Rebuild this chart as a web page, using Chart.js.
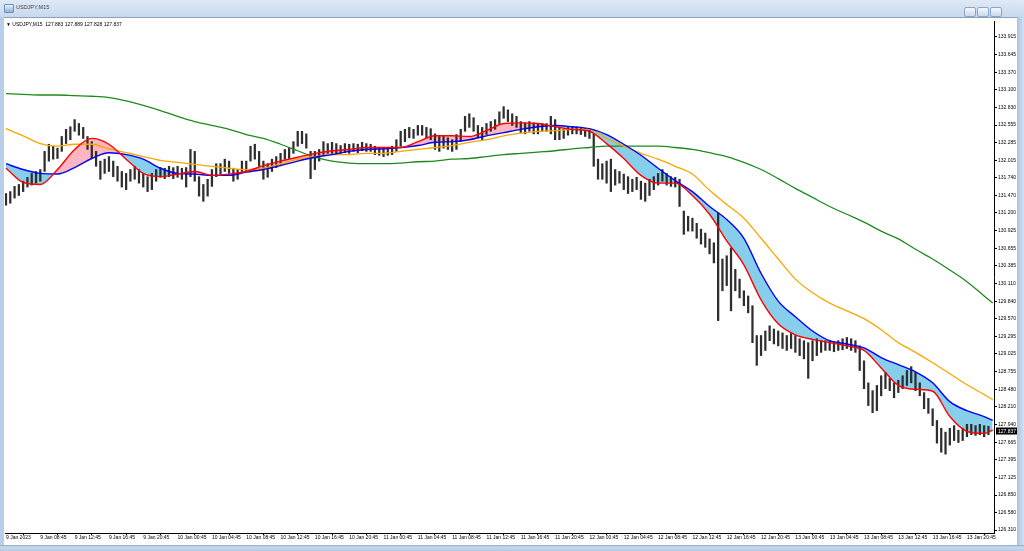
<!DOCTYPE html>
<html>
<head>
<meta charset="utf-8">
<script src="https://cdn.jsdelivr.net/npm/chart.js@4.4.1/dist/chart.umd.min.js"></script>
<style>
  html, body { margin: 0; padding: 0; width: 1024px; height: 551px; overflow: hidden; background: #b9cfe8; font-family: 'Liberation Sans', Arial, sans-serif; }
  #title { position: absolute; left: 0; top: 0; width: 1024px; height: 17px; background: linear-gradient(#dfe9f6, #c7d8ee); }
  #title .icon { position: absolute; left: 4px; top: 4px; width: 8px; height: 7px; background: linear-gradient(#e9f1fb, #8fb0d8); border: 1px solid #6d8fbd; border-radius: 1px; }
  #title .txt { position: absolute; left: 16px; top: 4px; font-size: 5.5px; color: #33475e; }
  #title .btns { position: absolute; right: 22px; top: 3px; height: 9px; }
  #title .btns span { display: inline-block; width: 10px; height: 8px; margin-left: 1px; border: 1px solid #8da5c4; border-radius: 2px; background: linear-gradient(#f4f8fd, #cad9ec); }
  #client { position: absolute; left: 4px; top: 17px; width: 1013px; height: 528px; background: #fff; border-top: 1px solid #8ba3c2; box-sizing: border-box; }
  #chart { position: absolute; left: 0; top: -1px; }
  #info { position: absolute; left: 2px; top: 3px; font-size: 5px; color: #000; white-space: pre; }
  #bottom { position: absolute; left: 0; top: 545px; width: 1024px; height: 6px; background: linear-gradient(#8fa6c2, #c9daee 2px, #b4cbe5); }
  #rightEdge { position: absolute; left: 1017px; top: 17px; width: 7px; height: 528px; background: linear-gradient(90deg, #a9c2df, #d3e2f3); }
</style>
</head>
<body>
<div id="title"><span class="icon"></span><span class="txt">USDJPY,M15</span><div class="btns"><span></span><span></span><span></span></div></div>
<div id="client">
  <canvas id="chart" width="1013" height="528" style="width:1013px;height:528px"></canvas>
  <div id="info">▼ USDJPY,M15  127.883 127.889 127.828 127.837</div>
</div>
<div id="rightEdge"></div>
<div id="bottom"></div>
<script>
// 30-minute bars, 9 Jan 04:45 .. 13 Jan 23:45
const highs = [
  131.50, 131.53, 131.61, 131.64, 131.69, 131.75, 131.81, 131.84, 131.87, 132.15,
  132.26, 132.23, 132.20, 132.38, 132.49, 132.53, 132.64, 132.58, 132.52, 132.38,
  132.30, 132.15, 132.00, 132.03, 132.07, 132.00, 131.92, 131.84, 131.81, 131.87,
  131.92, 131.87, 131.81, 131.76, 131.81, 131.87, 131.90, 131.89, 131.92, 131.90,
  131.92, 131.89, 131.90, 132.18, 132.15, 131.76, 131.64, 131.72, 131.87, 131.96,
  131.96, 132.03, 132.00, 131.89, 131.87, 132.00, 132.00, 132.23, 132.26, 132.15,
  132.00, 131.96, 132.03, 132.07, 132.12, 132.18, 132.20, 132.30, 132.46, 132.46,
  132.42, 132.15, 132.15, 132.18, 132.30, 132.27, 132.29, 132.27, 132.24, 132.27,
  132.26, 132.27, 132.26, 132.29, 132.27, 132.26, 132.23, 132.21, 132.20, 132.21,
  132.23, 132.33, 132.46, 132.49, 132.52, 132.49, 132.55, 132.55, 132.52, 132.50,
  132.42, 132.38, 132.38, 132.36, 132.33, 132.41, 132.49, 132.69, 132.73, 132.67,
  132.55, 132.52, 132.58, 132.61, 132.64, 132.76, 132.84, 132.79, 132.73, 132.69,
  132.61, 132.59, 132.61, 132.59, 132.58, 132.58, 132.58, 132.69, 132.64, 132.52,
  132.50, 132.52, 132.53, 132.53, 132.52, 132.50, 132.49, 132.42, 132.03, 131.96,
  132.00, 132.03, 131.87, 131.84, 131.80, 131.76, 131.72, 131.75, 131.69, 131.66,
  131.72, 131.76, 131.81, 131.87, 131.81, 131.76, 131.75, 131.72, 131.23, 131.15,
  131.12, 131.04, 130.95, 130.89, 130.80, 130.74, 131.20, 130.49, 130.54, 130.66,
  130.33, 130.18, 130.00, 129.92, 129.77, 129.31, 129.31, 129.38, 129.46, 129.41,
  129.38, 129.35, 129.31, 129.34, 129.31, 129.26, 129.23, 129.20, 129.23, 129.26,
  129.23, 129.23, 129.23, 129.21, 129.23, 129.26, 129.28, 129.26, 129.23, 129.15,
  128.92, 128.58, 128.46, 128.54, 128.69, 128.74, 128.65, 128.58, 128.62, 128.69,
  128.77, 128.83, 128.74, 128.58, 128.43, 128.34, 128.18, 128.00, 127.88, 127.82,
  127.88, 127.92, 127.85, 127.88, 127.94, 127.94, 127.92, 127.94, 127.92, 127.91
];
const lows = [
  131.32, 131.35, 131.43, 131.47, 131.53, 131.60, 131.63, 131.66, 131.69, 131.84,
  132.00, 132.03, 132.04, 132.15, 132.27, 132.33, 132.46, 132.40, 132.35, 132.18,
  132.04, 131.92, 131.72, 131.81, 131.84, 131.76, 131.69, 131.60, 131.56, 131.69,
  131.72, 131.66, 131.60, 131.53, 131.56, 131.69, 131.75, 131.73, 131.76, 131.73,
  131.75, 131.72, 131.60, 131.76, 131.69, 131.46, 131.38, 131.46, 131.61, 131.76,
  131.80, 131.84, 131.81, 131.69, 131.72, 131.84, 131.84, 132.00, 132.03, 131.92,
  131.72, 131.75, 131.84, 131.90, 131.95, 132.03, 132.04, 132.12, 132.23, 132.27,
  132.20, 131.73, 131.87, 132.00, 132.10, 132.12, 132.12, 132.10, 132.12, 132.13,
  132.12, 132.15, 132.13, 132.16, 132.15, 132.15, 132.10, 132.09, 132.07, 132.09,
  132.10, 132.15, 132.23, 132.30, 132.36, 132.35, 132.40, 132.40, 132.36, 132.33,
  132.18, 132.15, 132.20, 132.18, 132.15, 132.18, 132.30, 132.46, 132.52, 132.46,
  132.36, 132.33, 132.41, 132.46, 132.49, 132.58, 132.66, 132.61, 132.55, 132.52,
  132.44, 132.42, 132.46, 132.42, 132.42, 132.46, 132.46, 132.42, 132.33, 132.33,
  132.35, 132.40, 132.42, 132.42, 132.41, 132.38, 132.35, 131.92, 131.72, 131.72,
  131.66, 131.53, 131.63, 131.66, 131.56, 131.50, 131.53, 131.56, 131.41, 131.38,
  131.47, 131.56, 131.63, 131.69, 131.63, 131.61, 131.60, 131.30, 130.87, 130.92,
  130.92, 130.81, 130.72, 130.67, 130.57, 130.43, 129.54, 130.00, 130.08, 129.69,
  130.00, 129.89, 129.77, 129.66, 129.20, 128.85, 129.00, 129.08, 129.23, 129.18,
  129.15, 129.11, 129.08, 129.11, 129.05, 129.00, 128.95, 128.65, 128.92, 129.00,
  129.05, 129.08, 129.08, 129.06, 129.08, 129.09, 129.11, 129.08, 129.05, 128.77,
  128.49, 128.23, 128.12, 128.15, 128.38, 128.49, 128.46, 128.35, 128.43, 128.49,
  128.54, 128.58, 128.46, 128.38, 128.18, 128.11, 127.92, 127.65, 127.51, 127.48,
  127.62, 127.69, 127.66, 127.69, 127.75, 127.78, 127.77, 127.78, 127.75, 127.78
];

// moving averages, read every 4 bars (last point at the right edge)
const maFast = [
  131.89, 131.67, 131.64, 131.87, 132.18, 132.35, 132.26, 132.03, 131.81, 131.76,
  131.80, 131.84, 131.78, 131.80, 131.84, 131.93, 132.00, 132.06, 132.12, 132.16,
  132.18, 132.21, 132.21, 132.21, 132.30, 132.39, 132.39, 132.38, 132.47, 132.58,
  132.59, 132.58, 132.53, 132.49, 132.46, 132.27, 132.04, 131.78, 131.66, 131.66,
  131.47, 131.18, 130.77, 130.40, 129.86, 129.49, 129.32, 129.25, 129.20, 129.15,
  129.08, 128.81, 128.54, 128.48, 128.45, 128.06, 127.83, 127.80, 127.85
];
const maMid = [
  131.96, 131.87, 131.81, 131.80, 131.90, 132.04, 132.13, 132.10, 132.03, 131.89,
  131.81, 131.80, 131.78, 131.78, 131.83, 131.87, 131.93, 132.00, 132.06, 132.10,
  132.15, 132.18, 132.19, 132.21, 132.24, 132.29, 132.30, 132.33, 132.39, 132.44,
  132.49, 132.53, 132.55, 132.53, 132.50, 132.41, 132.26, 132.09, 131.89, 131.70,
  131.53, 131.30, 131.10, 130.81, 130.27, 129.84, 129.60, 129.38, 129.23, 129.18,
  129.12, 128.97, 128.86, 128.75, 128.58, 128.29, 128.15, 128.06, 128.00
];
const maSlow = [
  132.50, 132.39, 132.27, 132.23, 132.26, 132.26, 132.19, 132.13, 132.07, 132.01,
  131.98, 131.95, 131.92, 131.89, 131.87, 131.89, 131.96, 132.03, 132.07, 132.10,
  132.10, 132.12, 132.12, 132.15, 132.18, 132.21, 132.24, 132.29, 132.33, 132.39,
  132.43, 132.46, 132.47, 132.49, 132.49, 132.35, 132.23, 132.12, 132.03, 131.92,
  131.80, 131.55, 131.33, 131.12, 130.81, 130.49, 130.18, 129.97, 129.81, 129.69,
  129.57, 129.40, 129.20, 129.05, 128.89, 128.72, 128.55, 128.40, 128.32
];
const maLong = [
  133.04, 133.03, 133.02, 133.02, 133.01, 133.00, 132.98, 132.93, 132.86, 132.78,
  132.69, 132.61, 132.55, 132.49, 132.41, 132.35, 132.26, 132.16, 132.06, 132.00,
  131.97, 131.96, 131.96, 131.97, 131.99, 132.00, 132.03, 132.04, 132.07, 132.10,
  132.12, 132.14, 132.16, 132.19, 132.21, 132.23, 132.23, 132.23, 132.23, 132.21,
  132.18, 132.13, 132.07, 131.98, 131.87, 131.73, 131.58, 131.44, 131.30, 131.18,
  131.06, 130.92, 130.80, 130.64, 130.49, 130.32, 130.14, 129.92, 129.81
];

const timeLabels = [
  '9 Jan 2023', '9 Jan 08:45', '9 Jan 12:45', '9 Jan 16:45', '9 Jan 20:45',
  '10 Jan 00:45', '10 Jan 04:45', '10 Jan 08:45', '10 Jan 12:45', '10 Jan 16:45', '10 Jan 20:45',
  '11 Jan 00:45', '11 Jan 04:45', '11 Jan 08:45', '11 Jan 12:45', '11 Jan 16:45', '11 Jan 20:45',
  '12 Jan 00:45', '12 Jan 04:45', '12 Jan 08:45', '12 Jan 12:45', '12 Jan 16:45', '12 Jan 20:45',
  '13 Jan 00:45', '13 Jan 04:45', '13 Jan 08:45', '13 Jan 12:45', '13 Jan 16:45', '13 Jan 20:45'
];
const priceTicks = [
  126.310, 126.580, 126.850, 127.125, 127.395, 127.665, 127.940, 128.210, 128.480, 128.755,
  129.025, 129.295, 129.570, 129.840, 130.110, 130.385, 130.655, 130.925, 131.200, 131.470,
  131.740, 132.015, 132.285, 132.555, 132.830, 133.100, 133.370, 133.645, 133.915
];
const lastBar = [127.883, 127.889, 127.828, 127.837]; // O H L C

const maIdx = maFast.map((v, k) => (k < maFast.length - 1 ? k * 4 : 230));
const toPts = arr => arr.map((v, k) => ({ x: maIdx[k], y: v }));
const candles = highs.map((h, i) => ({ x: i, y: [lows[i], h] }));

const tickFont = { family: "'Liberation Sans', Arial, sans-serif", size: 5 };

// black box with the last price on the price scale
const lastPriceBox = {
  id: 'lastPriceBox',
  afterDraw(chart) {
    const ctx = chart.ctx;
    const ys = chart.scales.y;
    const py = ys.getPixelForValue(lastBar[3]);
    const x0 = chart.chartArea.right + 2;
    ctx.save();
    ctx.fillStyle = '#000';
    ctx.fillRect(x0, py - 3.5, 21, 7);
    ctx.fillStyle = '#fff';
    ctx.font = "5px 'Liberation Sans', Arial, sans-serif";
    ctx.textBaseline = 'middle';
    ctx.fillText(lastBar[3].toFixed(3), x0 + 2, py + 0.5);
    ctx.restore();
  }
};

new Chart(document.getElementById('chart').getContext('2d'), {
  type: 'bar',
  data: {
    datasets: [{
      type: 'bar',
      data: candles,
      backgroundColor: '#2e2e2e',
      barThickness: 1.6,
      order: 10
    }, {
      type: 'line',
      data: toPts(maFast),
      borderColor: '#ff0000',
      borderWidth: 1.4,
      pointRadius: 0,
      cubicInterpolationMode: 'monotone',
      fill: { target: 2, above: 'rgb(255,182,193)', below: 'rgb(135,206,235)' },
      order: 1
    }, {
      type: 'line',
      data: toPts(maMid),
      borderColor: '#0000ff',
      borderWidth: 1.4,
      pointRadius: 0,
      cubicInterpolationMode: 'monotone',
      fill: false,
      order: 2
    }, {
      type: 'line',
      data: toPts(maSlow),
      borderColor: '#ffa500',
      borderWidth: 1.3,
      pointRadius: 0,
      cubicInterpolationMode: 'monotone',
      fill: false,
      order: 3
    }, {
      type: 'line',
      data: toPts(maLong),
      borderColor: '#1e8a1e',
      borderWidth: 1.3,
      pointRadius: 0,
      cubicInterpolationMode: 'monotone',
      fill: false,
      order: 4
    }]
  },
  options: {
    responsive: false,
    animation: false,
    devicePixelRatio: 1,
    layout: { padding: { left: 1, top: 2, right: 0, bottom: 0 } },
    plugins: {
      legend: { display: false },
      tooltip: { enabled: false },
      filler: { drawTime: 'beforeDatasetsDraw' }
    },
    scales: {
      x: {
        type: 'linear',
        offset: false,
        min: -0.23,
        max: 230.3,
        afterBuildTicks: s => { s.ticks = timeLabels.map((t, k) => ({ value: k * 8 })); },
        afterFit: s => { s.height = 12; },
        ticks: {
          autoSkip: false,
          maxRotation: 0,
          align: 'start',
          padding: 0,
          color: '#000',
          font: tickFont,
          callback: v => timeLabels[Math.round(v / 8)]
        },
        grid: { drawOnChartArea: false, tickLength: 2, color: '#000' },
        border: { color: '#000', width: 1 }
      },
      y: {
        position: 'right',
        min: 126.264,
        max: 134.161,
        afterBuildTicks: s => { s.ticks = priceTicks.map(v => ({ value: v })); },
        afterFit: s => { s.width = 23; },
        ticks: {
          padding: 1,
          color: '#000',
          font: tickFont,
          callback: v => v.toFixed(3)
        },
        grid: { drawOnChartArea: false, tickLength: 3, color: '#000' },
        border: { color: '#000', width: 1 }
      }
    }
  },
  plugins: [lastPriceBox]
});
</script>
</body>
</html>
